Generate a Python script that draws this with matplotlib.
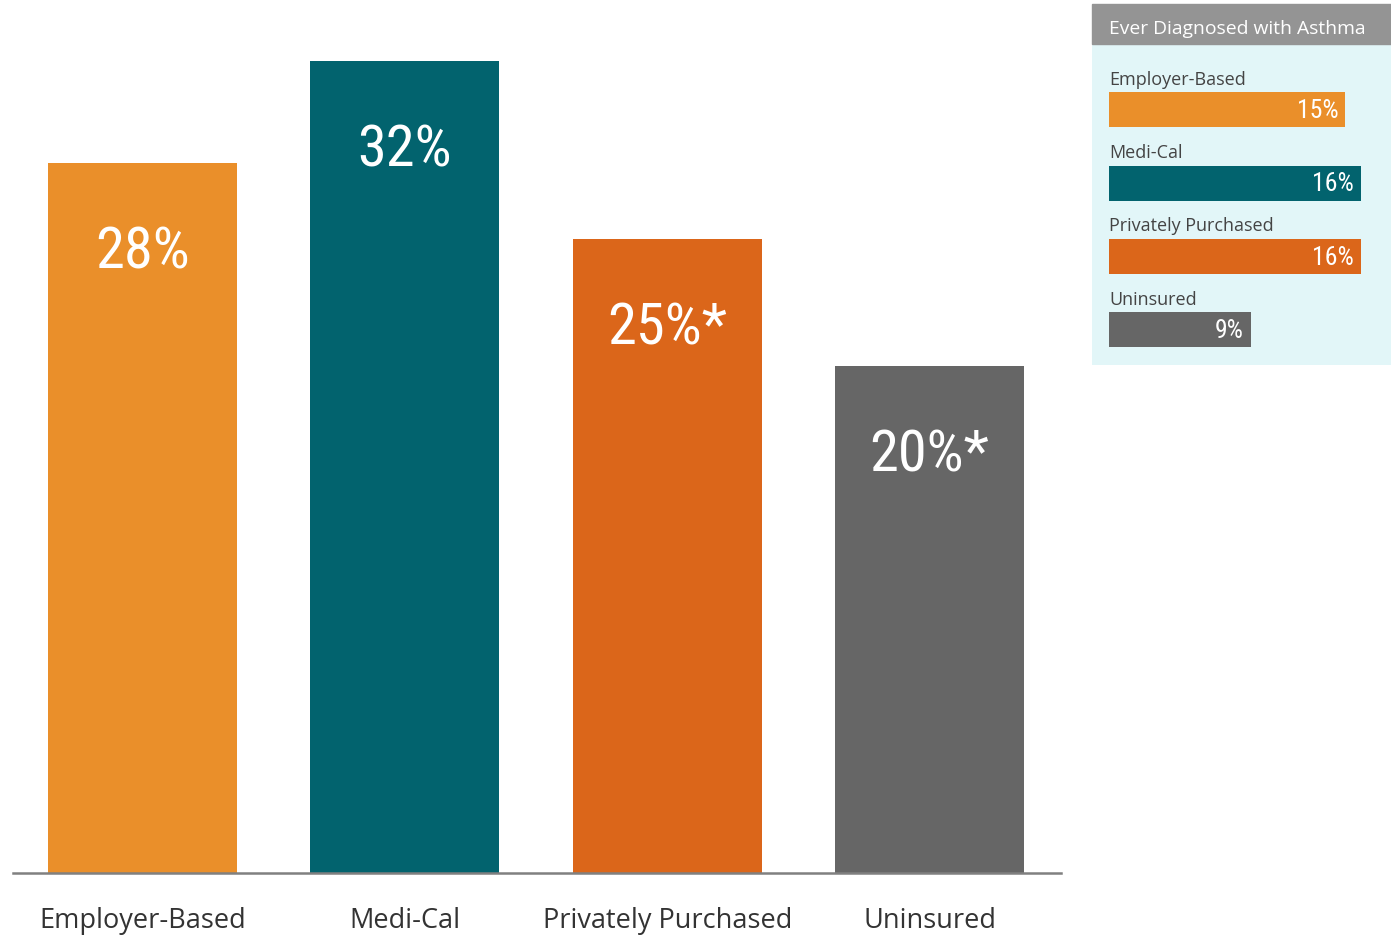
import matplotlib
matplotlib.use("Agg")
from matplotlib import pyplot as plt
from matplotlib.patches import Rectangle

# Data
categories = ["Employer-Based", "Medi-Cal", "Privately Purchased", "Uninsured"]
coverage_pct = [28, 32, 25, 20]
coverage_labels = ["28%", "32%", "25%*", "20%*"]
asthma_pct = [15, 16, 16, 9]
asthma_labels = ["15%", "16%", "16%", "9%"]
colors = ["#EA8F2A", "#02636E", "#DB661A", "#666666"]

W, H = 1391, 937
fig = plt.figure(figsize=(W / 100, H / 100), dpi=100)

# condensed look for the numbers, falls back if not installed
narrow = ["Roboto Condensed", "Liberation Sans Narrow", "Open Sans Condensed",
          "Roboto", "DejaVu Sans"]
plain = ["Open Sans", "DejaVu Sans"]

# main chart, placed in pixel terms
ax = fig.add_axes([13 / W, (H - 874) / H, (1061 - 13) / W, 874 / H])
x = list(range(len(categories)))
ax.bar(x, coverage_pct, width=0.72, color=colors)
ax.set_xlim(-0.4937, 3.501)
ax.set_ylim(0, 34.46)
for i, (v, lab) in enumerate(zip(coverage_pct, coverage_labels)):
    ax.annotate(lab, (i, v), xytext=(0, -64), textcoords="offset points",
                ha="center", va="center", color="white", fontsize=42,
                family=narrow)
for s in ["top", "right", "left"]:
    ax.spines[s].set_visible(False)
ax.spines["bottom"].set_color("#808080")
ax.spines["bottom"].set_linewidth(1.8)
ax.set_yticks([])
ax.set_xticks(x)
ax.set_xticklabels(categories, fontsize=19.5, color="#333333", family=plain)
ax.tick_params(axis="x", length=0, pad=23.5)

# side panel
lx = fig.add_axes([1092 / W, (H - 366) / H, (1391 - 1092) / W, 361 / H])
lx.set_facecolor("#E2F6F8")
yy = list(range(len(asthma_pct)))
lx.barh(yy, asthma_pct, height=0.478, color=colors)
lx.set_xlim(-1.079, 17.905)
lx.set_ylim(3.478, -1.442)
for i, (v, lab, cat) in enumerate(zip(asthma_pct, asthma_labels, categories)):
    lx.annotate(lab, (v, i), xytext=(-5, 0), textcoords="offset points",
                ha="right", va="center", color="white", fontsize=18.5,
                family=narrow)
    lx.annotate(cat, (0, i), xytext=(0, 22.5), textcoords="offset points",
                ha="left", va="center", color="#444444", fontsize=13,
                family=plain)
lx.add_patch(Rectangle((0, 1 - 40 / 361), 1, 40 / 361, transform=lx.transAxes,
                       color="#949494", clip_on=False))
lx.text(17 / 299, 1 - 24 / 361, "Ever Diagnosed with Asthma",
        transform=lx.transAxes, ha="left", va="center", color="white",
        fontsize=13.9, family=plain)
for s in lx.spines.values():
    s.set_visible(False)
lx.set_xticks([])
lx.set_yticks([])

fig.savefig("out.png", dpi=100)
plt.close()
